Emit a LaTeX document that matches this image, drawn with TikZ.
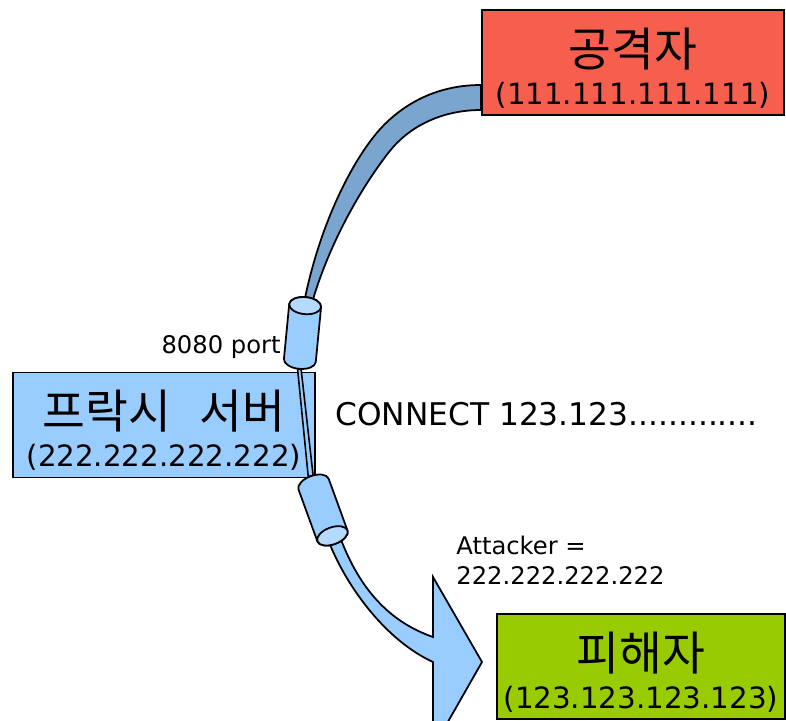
\documentclass[tikz,border=0pt]{standalone}
\usepackage{fontspec}
\setmainfont{DejaVu Sans}
\newfontfamily\kr{Noto Sans CJK KR}
\usetikzlibrary{calc}

\pgfdeclarelayer{bg}
\pgfdeclarelayer{fg}
\pgfsetlayers{bg,main,fg}

\definecolor{attackred}{RGB}{246,94,78}
\definecolor{hostblue}{RGB}{153,204,255}
\definecolor{victimgreen}{RGB}{153,204,0}
\definecolor{tunnelblue}{RGB}{122,165,207}
\definecolor{pipelight}{RGB}{180,218,255}

% host name, first line of a box
\newcommand{\hname}[1]{{\kr\fontsize{26.5}{30}\selectfont\rule{0pt}{28pt}#1}}

\begin{document}
\begin{tikzpicture}[x=0.02cm, y=-0.02cm]

\tikzset{host/.style = {draw, line width=1.1pt, minimum width=6.04cm, minimum height=2.1cm, align=center, inner sep=0pt, font=\fontsize{16.7}{21.5}\selectfont}}
\tikzset{edgeline/.style = {draw, line width=1pt}}
\tikzset{lbl/.style = {inner sep=0pt}}
\tikzset{port/.pic = {
  \begin{scope}[x=1cm, y=1cm]
  \draw[edgeline, fill=hostblue] (-0.55,-0.32) -- (0.55,-0.32) arc (-90:90:0.17 and 0.32)
    -- (-0.55,0.32) arc (90:270:0.17 and 0.32) -- cycle;
  \draw[edgeline, fill=pipelight] (0.55,0) ellipse (0.17 and 0.32);
  \coordinate (-top) at (0.72,0);
  \coordinate (-bottom) at (-0.72,0);
  \end{scope}
}}

\useasboundingbox (0,0) rectangle (786,720);
\clip (0,0) rectangle (786,720);

%hosts
\node[host, fill=attackred] (attacker) at (633,62.5) {\hname{공격자}\\(111.111.111.111)};
\node[host, fill=hostblue] (proxy) at (164,425) {\hname{프락시\hspace{0.6em}서버}\\(222.222.222.222)};
\node[host, fill=victimgreen, minimum width=5.76cm] (victim) at (641,666.5) {\hname{피해자}\\(123.123.123.123)};

%ports
\begin{pgfonlayer}{fg}
\pic[rotate=84.5] (inport) at (302.5,333) {port};
\pic[rotate=-70] (outport) at (323,510) {port};
\end{pgfonlayer}

%tunnels
\begin{pgfonlayer}{bg}
\path[edgeline, fill=tunnelblue] (attacker.west |- 0,85)
  .. controls (440,85) and (407,101) .. (382,127)
  .. controls (354,157) and (320,222) .. ($(inport-top)+(-2,6)$)
  -- ($(inport-top)+(6,6)$)
  .. controls (327,250) and (357,193) .. (389,152)
  .. controls (411,124) and (445,110) .. (attacker.west |- 0,110)
  -- cycle;
\path[edgeline, fill=hostblue] ($(outport-top)+(-8,-6)$)
  .. controls (345,585) and (385,640) .. (433,662)
  -- (433,748) -- (482,662) -- (433,577) -- (433,637)
  .. controls (390,622) and (360,590) .. ($(outport-top)+(5,-6)$)
  -- cycle;
\end{pgfonlayer}
\draw[line width=0.9pt, fill=hostblue] ($(inport-bottom)+(-1.5,0)$) -- ($(outport-bottom)+(-2.5,0)$)
  -- ($(outport-bottom)+(2.5,0)$) -- ($(inport-bottom)+(2,0)$) -- cycle;

%labels
\node[lbl, anchor=base east, font=\fontsize{13.8}{16}\selectfont] (portlabel) at (281,353.5) {8080 port};
\node[lbl, anchor=base west, font=\fontsize{17.8}{21}\selectfont] (request) at (335,425.5) {CONNECT 123.123.............};
\node[lbl, anchor=north west, align=left, font=\fontsize{13.8}{17}\selectfont] (spoof) at (456,536) {Attacker =\\222.222.222.222};

\end{tikzpicture}
\end{document}
